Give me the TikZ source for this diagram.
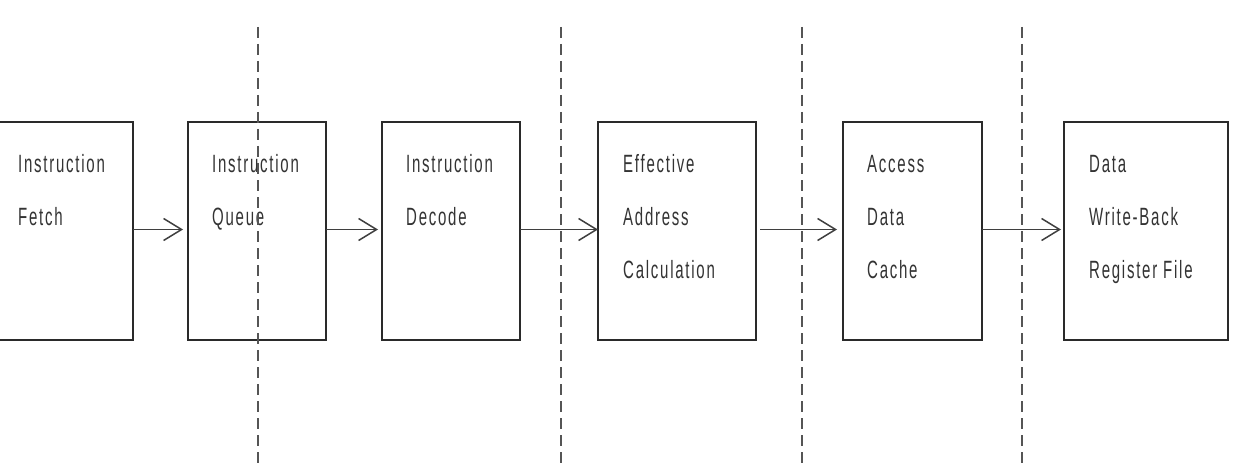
\documentclass[tikz,border=0pt]{standalone}
\usepackage{fontspec}
\newfontfamily\pipefont[FakeStretch=0.6,LetterSpace=7]{Liberation Sans}
\usetikzlibrary{arrows.meta}
\definecolor{ink}{HTML}{2A2A2A}
\definecolor{txt}{HTML}{333333}
\definecolor{dash}{HTML}{555555}
\begin{document}
\begin{tikzpicture}[x=1pt,y=-1pt,
  stagebox/.style={draw=ink,line width=2.2pt,inner sep=0pt,outer sep=0pt,minimum height=218pt,anchor=north west},
  lbl/.style={text=txt,align=left,inner sep=0pt,anchor=base west,font=\pipefont\fontsize{25}{53.3}\selectfont},
  arr/.style={draw=ink!90,line width=1.5pt,-{Straight Barb[length=18pt,width=22pt,line width=1.5pt]}},
  sep/.style={draw=dash,line width=1.6pt,dash pattern=on 11pt off 6pt}]
\useasboundingbox (0,0) rectangle (1237,468);
% boxes
\node[stagebox,minimum width=138pt] (b1) at (-5,122) {};
\node[stagebox,minimum width=138pt] (b2) at (188,122) {};
\node[stagebox,minimum width=138pt] (b3) at (382,122) {};
\node[stagebox,minimum width=158pt] (b4) at (598,122) {};
\node[stagebox,minimum width=139pt] (b5) at (843,122) {};
\node[stagebox,minimum width=164pt] (b6) at (1064,122) {};
% labels (base anchor = baseline of last line)
\node[lbl] (t1) at (18,225.3) {Instruction\\Fetch};
\node[lbl] (t2) at (212,225.3) {Instruction\\Queue};
\node[lbl] (t3) at (406,225.3) {Instruction\\Decode};
\node[lbl] (t4) at (623,278.6) {Effective\\Address\\Calculation};
\node[lbl] (t5) at (867,278.6) {Access\\Data\\Cache};
\node[lbl] (t6) at (1089,278.6) {Data\\Write-Back\\Register File};
% arrows
\draw[arr,shorten >=5pt] ([yshift=1.5pt]b1.east) -- ([yshift=1.5pt]b2.west);
\draw[arr,shorten >=4pt] ([yshift=1.5pt]b2.east) -- ([yshift=1.5pt]b3.west);
\draw[arr] ([yshift=1.5pt]b3.east) -- ([yshift=1.5pt]b4.west);
\draw[arr,shorten <=4pt,shorten >=6pt] ([yshift=1.5pt]b4.east) -- ([yshift=1.5pt]b5.west);
\draw[arr,shorten >=3pt] ([yshift=1.5pt]b5.east) -- ([yshift=1.5pt]b6.west);
% stage separators
\coordinate (d1t) at (258,27); \coordinate (d1b) at (258,470);
\coordinate (d2t) at (561,27); \coordinate (d2b) at (561,470);
\coordinate (d3t) at (802,27); \coordinate (d3b) at (802,470);
\coordinate (d4t) at (1022,27); \coordinate (d4b) at (1022,470);
\draw[sep] (d1t) -- (d1b);
\draw[sep] (d2t) -- (d2b);
\draw[sep] (d3t) -- (d3b);
\draw[sep] (d4t) -- (d4b);
\end{tikzpicture}
\end{document}
